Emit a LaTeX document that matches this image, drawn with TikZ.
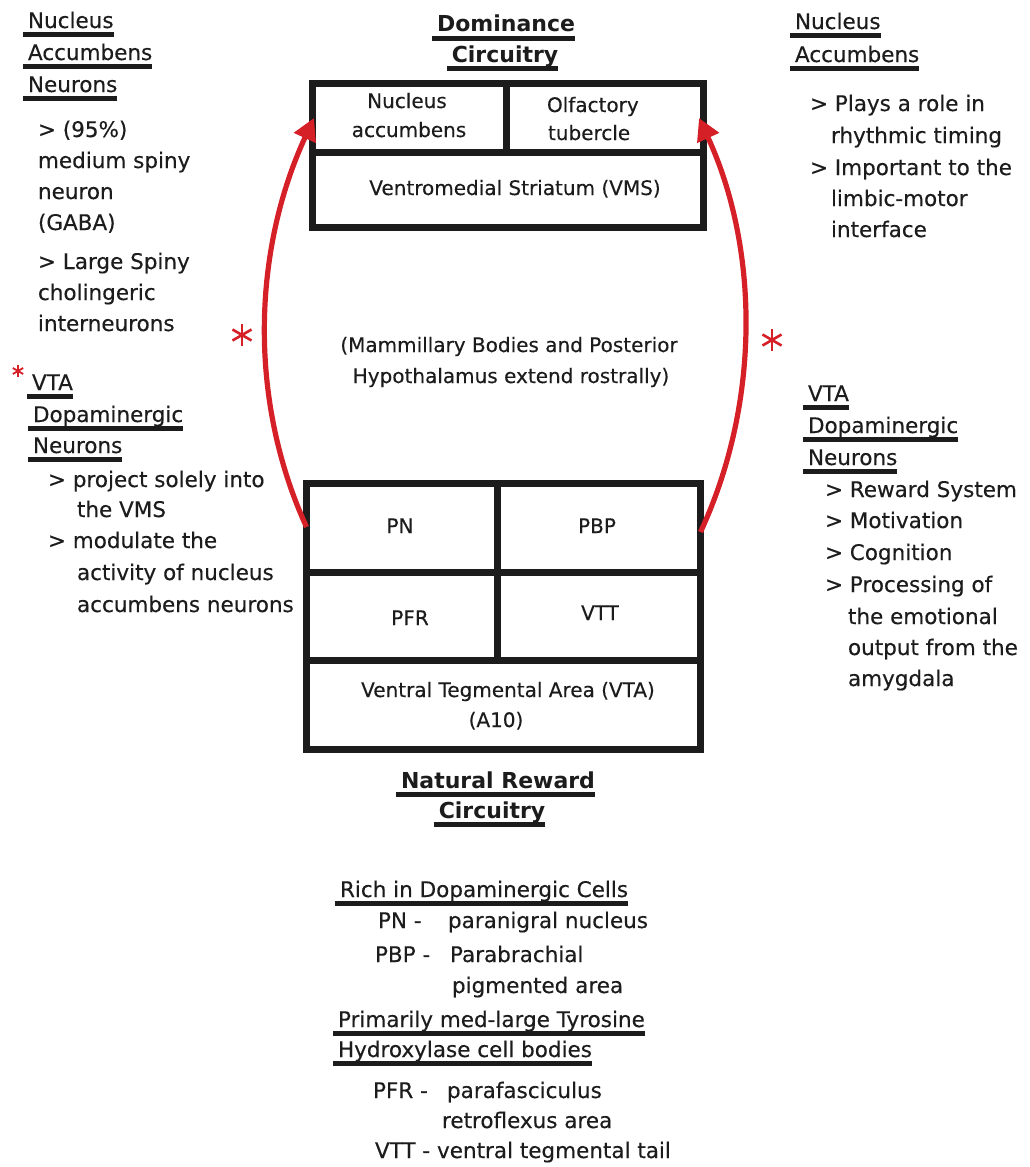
\documentclass[tikz,border=0pt]{standalone}
\usepackage{fontspec}
\setmainfont[UprightFeatures={FakeBold=0.3}]{DejaVu Sans}
\usetikzlibrary{arrows.meta}
\definecolor{ink}{RGB}{28,28,28}
\definecolor{arrowred}{RGB}{214,32,40}
\newcommand\myul[1]{\setbox0=\hbox{#1}\rlap{\kern-2.5pt\rule[-4.6pt]{\dimexpr\wd0+2.5pt\relax}{2.8pt}}\box0}
\tikzset{
  t/.style={inner sep=0pt, outer sep=0pt, anchor=base west, text=ink, font=\fontsize{10.75pt}{13pt}\selectfont},
  tc/.style={t, anchor=base},
  tb/.style={tc, font=\fontsize{11pt}{13pt}\selectfont\bfseries},
  tbox/.style={tc, font=\fontsize{10pt}{12pt}\selectfont},
  tboxw/.style={tbox, anchor=base west},
  boxline/.style={draw=ink, line width=3.5pt},
  redarr/.style={draw=arrowred, line width=2.6pt, -{Triangle[length=11pt,width=11.5pt]}},
  aster/.pic={\foreach \a in {90,30,150} \draw[arrowred, line width=1.3pt] (\a:-1) -- (\a:1);},
  smallaster/.pic={\foreach \a in {90,30,150} \draw[arrowred, line width=0.9pt] (\a:-1) -- (\a:1);}
}
\begin{document}
\begin{tikzpicture}[x=0.5pt,y=-0.5pt]
\fill[white] (0,0) rectangle (1029,1167);
\useasboundingbox (0,0) rectangle (1029,1167);

% ---------- Boxes ----------
\node[boxline, outer sep=0pt, inner sep=0pt, minimum width=195.5pt, minimum height=72pt] (topbox) at (507.5,155) {};
\draw[boxline] (topbox.west |- 0,152) -- (topbox.east |- 0,152);
\draw[boxline] (506,83) -- (506,152);

\node[boxline, outer sep=0pt, inner sep=0pt, minimum width=197pt, minimum height=133pt] (botbox) at (503.5,616.5) {};
\draw[boxline] (botbox.west |- 0,572) -- (botbox.east |- 0,572);
\draw[boxline] (botbox.west |- 0,660) -- (botbox.east |- 0,660);
\draw[boxline] (497,483.5) -- (497,660);

% ---------- Titles ----------
\node[tb] (dom1) at (506,32) {\myul{Dominance}};
\node[tb] (dom2) at (505,62) {\myul{Circuitry}};
\node[tb] (nat1) at (498,788) {\myul{Natural Reward}};
\node[tb] (nat2) at (492,818) {\myul{Circuitry}};

% ---------- Box texts ----------
\node[tbox] (nacc1) at (407,108) {Nucleus};
\node[tbox] (nacc2) at (409,137) {accumbens};
\node[tboxw] (olf1) at (547,112) {Olfactory};
\node[tboxw] (olf2) at (548,140) {tubercle};
\node[tbox] (vms) at (515,195) {Ventromedial Striatum (VMS)};

\node[tbox] (pn) at (400,533) {PN};
\node[tbox] (pbp) at (597,533) {PBP};
\node[tbox] (pfr) at (410,625) {PFR};
\node[tbox] (vtt) at (600,620) {VTT};
\node[tbox] (vta) at (508,697) {Ventral Tegmental Area (VTA)};
\node[tbox] (a10) at (496,727) {(A10)};

\node[tbox] (mid1) at (509,352) {(Mammillary Bodies and Posterior};
\node[tbox] (mid2) at (511,383) {Hypothalamus extend rostrally)};

% ---------- Left column ----------
\node[t] (lh1) at (28,28) {\myul{Nucleus}};
\node[t] (lh2) at (28,60) {\myul{Accumbens}};
\node[t] (lh3) at (28,92) {\myul{Neurons}};
\node[t] (l1) at (38,137) {> (95\%)};
\node[t] (l2) at (38,168) {medium spiny};
\node[t] (l3) at (38,199) {neuron};
\node[t] (l4) at (38,230) {(GABA)};
\node[t] (l5) at (38,269) {> Large Spiny};
\node[t] (l6) at (38,300) {cholingeric};
\node[t] (l7) at (38,331) {interneurons};

\node[t] (lv1) at (32,390) {\myul{VTA}};
\node[t] (lv2) at (33,422) {\myul{Dopaminergic}};
\node[t] (lv3) at (33,453) {\myul{Neurons}};
\node[t] (lv4) at (48,487) {> project solely into};
\node[t] (lv5) at (77,517) {the VMS};
\node[t] (lv6) at (48,548) {> modulate the};
\node[t] (lv7) at (77,580) {activity of nucleus};
\node[t] (lv8) at (77,612) {accumbens neurons};

% ---------- Right column ----------
\node[t] (rh1) at (795,29) {\myul{Nucleus}};
\node[t] (rh2) at (795,62) {\myul{Accumbens}};
\node[t] (r1) at (810,111) {> Plays a role in};
\node[t] (r2) at (831,143) {rhythmic timing};
\node[t] (r3) at (810,175) {> Important to the};
\node[t] (r4) at (831,206) {limbic-motor};
\node[t] (r5) at (831,237) {interface};

\node[t] (rv1) at (808,401) {\myul{VTA}};
\node[t] (rv2) at (808,433) {\myul{Dopaminergic}};
\node[t] (rv3) at (808,465) {\myul{Neurons}};
\node[t] (rv4) at (825,497) {> Reward System};
\node[t] (rv5) at (825,528) {> Motivation};
\node[t] (rv6) at (825,560) {> Cognition};
\node[t] (rv7) at (825,592) {> Processing of};
\node[t] (rv8) at (848,624) {the emotional};
\node[t] (rv9) at (848,655) {output from the};
\node[t] (rv10) at (848,686) {amygdala};

% ---------- Bottom legend ----------
\node[t] (b1) at (340,897) {\myul{Rich in Dopaminergic Cells}};
\node[t] (b2) at (378,928) {PN -};
\node[t] (b2b) at (448,928) {paranigral nucleus};
\node[t] (b3) at (375,962) {PBP -};
\node[t] (b3b) at (450,962) {Parabrachial};
\node[t] (b4) at (452,993) {pigmented area};
\node[t] (b5) at (338,1027) {\myul{Primarily med-large Tyrosine}};
\node[t] (b6) at (338,1057) {\myul{Hydroxylase cell bodies}};
\node[t] (b7) at (373,1098) {PFR -};
\node[t] (b7b) at (447,1098) {parafasciculus};
\node[t] (b8) at (442,1128) {retroflexus area};
\node[t] (b9) at (375,1158) {VTT - ventral tegmental tail};

% ---------- Red arrows ----------
\coordinate (lstart) at (botbox.west |- 0,527);
\coordinate (lend) at (314,118);
\coordinate (rstart) at (botbox.east |- 0,532);
\coordinate (rend) at (699,118);
\draw[redarr] (lstart) .. controls (247,397) and (254,248) .. (lend);
\draw[redarr] (rstart) .. controls (761,402) and (759,248) .. (rend);

\pic[scale=11] at (242,335) {aster};
\pic[scale=11] at (772,340) {aster};
\pic[scale=6] at (18,371) {smallaster};
\end{tikzpicture}
\end{document}
